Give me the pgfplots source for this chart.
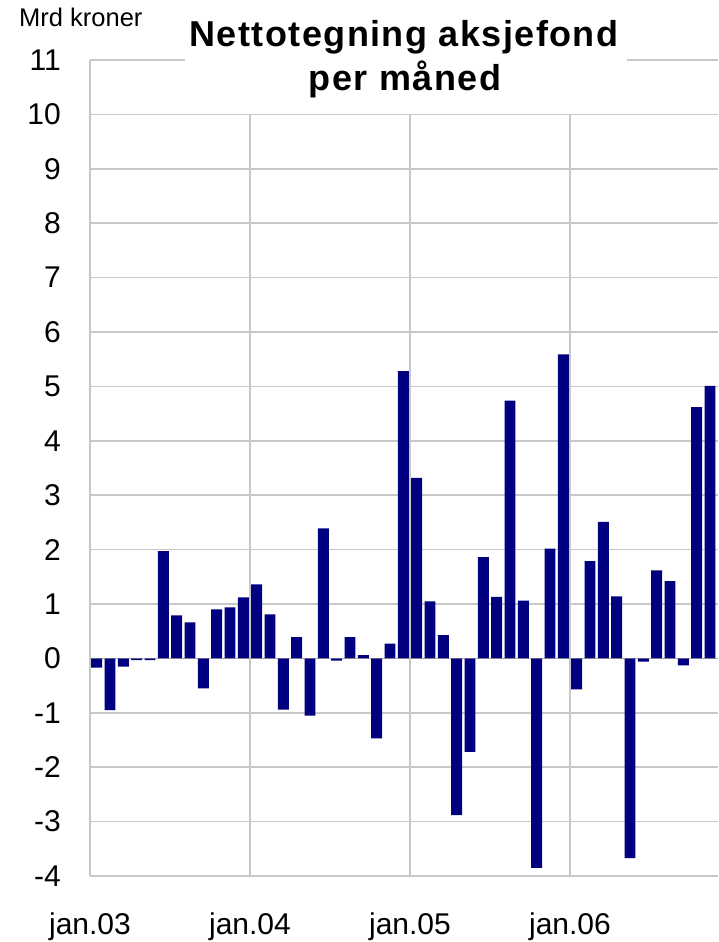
\documentclass[border=0pt]{standalone}
\usepackage{pgfplots}
\pgfplotsset{compat=1.18}
\usepackage{fontspec}
\setmainfont{Liberation Sans}
\newfontfamily\titlefont[LetterSpace=4]{Liberation Sans}

\definecolor{barblue}{RGB}{0,0,128}
\definecolor{gridgray}{RGB}{200,200,200}

\begin{document}
\begin{tikzpicture}
\begin{axis}[
    at={(90pt,66pt)}, anchor=south west,
    scale only axis,
    width=628pt, height=816pt,
    xmin=0, xmax=47.1,
    ymin=-4, ymax=11,
    xtick={0,12,24,36},
    xticklabels={jan.03,jan.04,jan.05,jan.06},
    ytick={-4,-3,-2,-1,0,1,2,3,4,5,6,7,8,9,10,11},
    yticklabels={-4,-3,-2,-1,0,1,2,3,4,5,6,7,8,9,10,11},
    grid=major,
    major grid style={gridgray, line width=1.5pt},
    axis line style={draw=none},
    major tick length=0pt,
    tick label style={font=\fontsize{30}{36}\selectfont, inner sep=0pt},
    xticklabel shift=37pt,
    yticklabel shift=29pt,
    ybar, bar width=0.82,
]

% nettotegning per maaned, jan.03 - nov.06 (mrd kroner)
\addplot[fill=barblue, draw=none] coordinates {
    (0.5,-0.17) (1.5,-0.95) (2.5,-0.15) (3.5,-0.03) (4.5,-0.03) (5.5,1.97)
    (6.5,0.79) (7.5,0.66) (8.5,-0.55) (9.5,0.90) (10.5,0.94) (11.5,1.12)
    (12.5,1.36) (13.5,0.81) (14.5,-0.94) (15.5,0.39) (16.5,-1.05) (17.5,2.39)
    (18.5,-0.04) (19.5,0.39) (20.5,0.06) (21.5,-1.47) (22.5,0.27) (23.5,5.28)
    (24.5,3.32) (25.5,1.05) (26.5,0.43) (27.5,-2.88) (28.5,-1.72) (29.5,1.86)
    (30.5,1.13) (31.5,4.74) (32.5,1.06) (33.5,-3.85) (34.5,2.02) (35.5,5.59)
    (36.5,-0.57) (37.5,1.79) (38.5,2.51) (39.5,1.14) (40.5,-3.67) (41.5,-0.06)
    (42.5,1.62) (43.5,1.42) (44.5,-0.13) (45.5,4.62) (46.5,5.01)
};

% null-linja ligger over soylene
\draw[gray, opacity=0.4, line width=1.5pt] (axis cs:0,0) -- (axis cs:47.1,0);
\end{axis}

% tittelboks
\node[fill=white, minimum width=442pt, minimum height=104pt, inner sep=0pt] at (406pt,880pt) {};
\node[anchor=base, font=\titlefont\bfseries\fontsize{36}{44}\selectfont] at (404pt,895pt) {Nettotegning aksjefond};
\node[anchor=base, font=\titlefont\bfseries\fontsize{36}{44}\selectfont] at (405pt,851pt) {per måned};
\node[anchor=base west, inner sep=0pt, font=\fontsize{25.5}{30}\selectfont] at (19pt,915pt) {Mrd kroner};

\pgfresetboundingbox
\path[use as bounding box] (0,0) rectangle (718pt,942pt);
\end{tikzpicture}
\end{document}
